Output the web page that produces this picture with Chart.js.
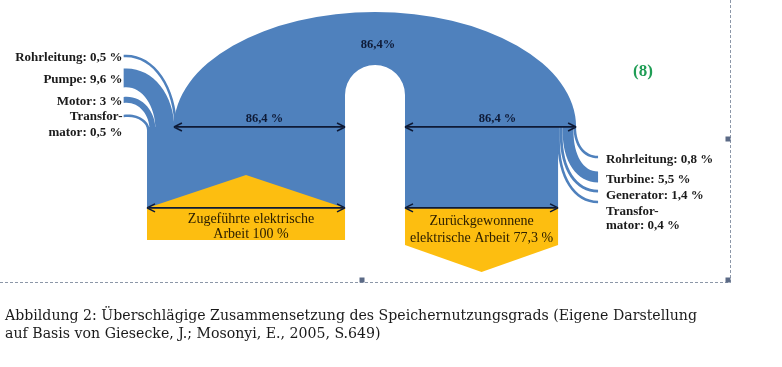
<!DOCTYPE html>
<html>
<head>
<meta charset="utf-8">
<script src="https://cdn.jsdelivr.net/npm/chart.js@4.4.1/dist/chart.umd.min.js"></script>
<style>
    html, body { margin: 0; padding: 0; background: #fff; }
</style>
</head>
<body>
<canvas id="flow" width="782" height="367"></canvas>
<script>
// Werte in % der zugefuehrten elektrischen Arbeit
const inputWork = 100;
const storedWork = 86.4;
const recoveredWork = 77.3;

const inLossNames = ['Rohrleitung', 'Pumpe', 'Motor', 'Transformator'];
const inLossValues = [0.5, 9.6, 3, 0.5];

const outLossNames = ['Rohrleitung', 'Turbine', 'Generator', 'Transformator'];
const outLossValues = [0.8, 5.5, 1.4, 0.4];

const captionLines = [
    'Abbildung 2: Überschlägige Zusammensetzung des Speichernutzungsgrads (Eigene Darstellung',
    'auf Basis von Giesecke, J.; Mosonyi, E., 2005, S.649)'
];

// Layout (Einheiten = Prozentpunkte, auf beiden Achsen gleich gross)
const UNIT_PX = 1.98;
const X0 = -74.25;
const gap = 30.3;
const archBase = 64.1;
const archTop = 6.1;
const holeCY = 48;
const lowArrowY = 105;
const inBottom = 121.2;
const inApex = 88.4;
const outRectBottom = 123.7;
const outTip = 137.4;
const inEndX = -11.8;
const inEndY = [28.3, 39.4, 50.5, 58.6];
const inTextY = [29.3, 40.4, 51.5, 59.1];
const outEndX = 227.8;
const outEndY = [79.3, 89.4, 96.5, 102.0];
const outTextY = [80.8, 90.9, 99, 107.1];
const minBand = 1.3;

const BLUE = '#4f81bd';
const GOLD = '#fdbe10';
const INK = '#0e1a36';
const SERIF = '"Liberation Serif", "DejaVu Serif", serif';

function fmt(v) {
    return String(v).replace('.', ',');
}

function lossLines(name, v) {
    if (name === 'Transformator') {
        return ['Transfor-', 'mator: ' + fmt(v) + ' %'];
    }
    return [name + ': ' + fmt(v) + ' %'];
}

function arrow(ctx, x1, x2, y) {
    ctx.save();
    ctx.strokeStyle = INK;
    ctx.lineWidth = 1.6;
    ctx.beginPath();
    ctx.moveTo(x1 + 2, y);
    ctx.lineTo(x2 - 2, y);
    ctx.stroke();
    [[x1, 1], [x2, -1]].forEach(function(p) {
        ctx.beginPath();
        ctx.moveTo(p[0], y);
        ctx.lineTo(p[0] + p[1] * 8, y - 4);
        ctx.moveTo(p[0], y);
        ctx.lineTo(p[0] + p[1] * 8, y + 4);
        ctx.stroke();
    });
    ctx.restore();
}

const flowPlugin = {
    id: 'flow',
    afterDraw(chart) {
        const ctx = chart.ctx;
        const xs = chart.scales.x;
        const ys = chart.scales.y;
        const X = v => xs.getPixelForValue(v);
        const Y = v => ys.getPixelForValue(v);

        const flowL = inputWork - storedWork;          // linker Rand des Bogens
        const outL = inputWork + gap;                    // linker Rand rechte Saeule
        const outR = outL + storedWork;
        const cx = (flowL + outR) / 2;

        ctx.save();
        ctx.fillStyle = BLUE;

        // Bogen mit Aussparung
        ctx.beginPath();
        ctx.moveTo(X(flowL), Y(archBase));
        ctx.ellipse(X(cx), Y(archBase), X(outR) - X(cx), Y(archBase) - Y(archTop), 0, Math.PI, 2 * Math.PI);
        ctx.lineTo(X(outL), Y(archBase));
        ctx.lineTo(X(outL), Y(holeCY));
        ctx.arc(X(inputWork + gap / 2), Y(holeCY), X(outL) - X(inputWork + gap / 2), 0, Math.PI, true);
        ctx.lineTo(X(inputWork), Y(archBase));
        ctx.closePath();
        ctx.fill();

        // Saeulen
        ctx.fillRect(X(0), Y(archBase), X(inputWork) - X(0), Y(inBottom) - Y(archBase));
        ctx.fillRect(X(outL), Y(archBase), X(outL + recoveredWork) - X(outL), Y(lowArrowY) - Y(archBase));

        // Verluste links (Pumpbetrieb)
        let acc = 0;
        for (let i = inLossValues.length - 1; i >= 0; i--) {
            const w = Math.max(inLossValues[i], minBand);
            const xa = acc, xb = acc + w;
            acc += w;
            const yT = inEndY[i] - w / 2, yB = inEndY[i] + w / 2;
            const yE = archBase + 1.5;
            ctx.beginPath();
            ctx.moveTo(X(inEndX), Y(yT));
            ctx.bezierCurveTo(X(inEndX + (xb - inEndX) * 0.55), Y(yT - 1), X(xb), Y(yT + (yE - yT) * 0.4), X(xb), Y(yE));
            ctx.lineTo(X(xa), Y(yE));
            ctx.bezierCurveTo(X(xa), Y(yB + (yE - yB) * 0.4), X(inEndX + (xa - inEndX) * 0.55), Y(yB - 1), X(inEndX), Y(yB));
            ctx.closePath();
            ctx.fill();
        }

        // Verluste rechts (Turbinenbetrieb), innere Baender treten tiefer aus
        acc = outR;
        for (let i = 0; i < outLossValues.length; i++) {
            const w = Math.max(outLossValues[i], minBand);
            const xb = acc, xa = acc - w;
            acc -= w;
            const yT = outEndY[i] - w / 2, yB = outEndY[i] + w / 2;
            const yS = archBase + i * 2.2;
            ctx.beginPath();
            ctx.moveTo(X(xb), Y(archBase - 0.5));
            ctx.lineTo(X(xb), Y(yS));
            ctx.bezierCurveTo(X(xb), Y(yS + (yT - yS) * 0.6), X(xb + (outEndX - xb) * 0.4), Y(yT), X(outEndX), Y(yT));
            ctx.lineTo(X(outEndX), Y(yB));
            ctx.bezierCurveTo(X(xa + (outEndX - xa) * 0.4), Y(yB), X(xa), Y(yS + (yB - yS) * 0.6), X(xa), Y(yS));
            ctx.lineTo(X(xa), Y(archBase - 0.5));
            ctx.closePath();
            ctx.fill();
        }

        // gelbe Felder
        ctx.fillStyle = GOLD;
        ctx.beginPath();
        ctx.moveTo(X(0), Y(inBottom));
        ctx.lineTo(X(0), Y(lowArrowY));
        ctx.lineTo(X(inputWork / 2), Y(inApex));
        ctx.lineTo(X(inputWork), Y(lowArrowY));
        ctx.lineTo(X(inputWork), Y(inBottom));
        ctx.closePath();
        ctx.fill();

        ctx.beginPath();
        ctx.moveTo(X(outL), Y(lowArrowY));
        ctx.lineTo(X(outL + recoveredWork), Y(lowArrowY));
        ctx.lineTo(X(outL + recoveredWork), Y(outRectBottom));
        ctx.lineTo(X(outL + recoveredWork / 2), Y(outTip));
        ctx.lineTo(X(outL), Y(outRectBottom));
        ctx.closePath();
        ctx.fill();

        // Pfeile
        arrow(ctx, X(flowL), X(inputWork), Y(archBase));
        arrow(ctx, X(outL), X(outR), Y(archBase));
        arrow(ctx, X(0), X(inputWork), Y(lowArrowY));
        arrow(ctx, X(outL), X(outL + recoveredWork), Y(lowArrowY));

        // Texte
        ctx.textBaseline = 'middle';
        ctx.fillStyle = INK;
        ctx.font = 'bold 12.5px ' + SERIF;
        ctx.textAlign = 'center';
        ctx.fillText(fmt(storedWork) + '%', X(cx) + 3, Y(22.7));
        ctx.fillText(fmt(storedWork) + ' %', X((flowL + inputWork) / 2) + 5, Y(archBase - 4));
        ctx.fillText(fmt(storedWork) + ' %', X((outL + outR) / 2) + 7, Y(archBase - 4));

        ctx.fillStyle = '#2e2000';
        ctx.font = '14px ' + SERIF;
        ctx.fillText('Zugeführte elektrische', X(inputWork / 2) + 5, Y(110.6));
        ctx.fillText('Arbeit ' + fmt(inputWork) + ' %', X(inputWork / 2) + 5, Y(118.2));
        ctx.fillText('Zurückgewonnene', X(outL + recoveredWork / 2), Y(111.6));
        ctx.fillText('elektrische Arbeit ' + fmt(recoveredWork) + ' %', X(outL + recoveredWork / 2), Y(120.2));

        ctx.fillStyle = '#1b1b1b';
        ctx.font = 'bold 13px ' + SERIF;
        ctx.textAlign = 'right';
        inLossNames.forEach(function(n, i) {
            lossLines(n, inLossValues[i]).forEach(function(t, k) {
                ctx.fillText(t, X(inEndX - 0.6), Y(inTextY[i] + k * 8.1));
            });
        });
        ctx.textAlign = 'left';
        outLossNames.forEach(function(n, i) {
            lossLines(n, outLossValues[i]).forEach(function(t, k) {
                ctx.fillText(t, X(outEndX + 4), Y(outTextY[i] + k * 7.1));
            });
        });

        ctx.fillStyle = '#1f9d55';
        ctx.font = 'bold 17px ' + SERIF;
        ctx.textAlign = 'center';
        ctx.fillText('(8)', 643, 72);

        // Rahmen der Textbox
        ctx.strokeStyle = '#8c97a8';
        ctx.lineWidth = 1;
        ctx.setLineDash([3, 2]);
        ctx.beginPath();
        ctx.moveTo(0, 282.5);
        ctx.lineTo(730.5, 282.5);
        ctx.moveTo(730.5, 0);
        ctx.lineTo(730.5, 282.5);
        ctx.stroke();
        ctx.setLineDash([]);
        ctx.fillStyle = '#5b6a86';
        [[362, 280], [728, 139], [728, 280]].forEach(function(p) {
            ctx.fillRect(p[0] - 2.5, p[1] - 2.5, 5, 5);
        });

        // Bildunterschrift
        ctx.fillStyle = '#1a1a1a';
        ctx.font = '14.5px "DejaVu Serif Condensed", "DejaVu Serif", serif';
        ctx.textAlign = 'left';
        const sx = 692 / ctx.measureText(captionLines[0]).width;
        captionLines.forEach(function(t, k) {
            ctx.save();
            ctx.translate(5, 316 + k * 18);
            ctx.scale(sx, 1);
            ctx.fillText(t, 0, 0);
            ctx.restore();
        });
        ctx.restore();
    }
};

window.onload = function() {
    const cv = document.getElementById('flow');
    const flowChart = new Chart(cv, {
        type: 'scatter',
        data: { datasets: [] },
        options: {
            responsive: false,
            animation: false,
            layout: { padding: 0 },
            plugins: {
                legend: { display: false },
                tooltip: { enabled: false }
            },
            scales: {
                x: { type: 'linear', display: false, min: X0, max: X0 + 782 / UNIT_PX },
                y: { type: 'linear', display: false, min: 0, max: 367 / UNIT_PX, reverse: true }
            }
        },
        plugins: [flowPlugin]
    });
}
</script>
</body>
</html>
